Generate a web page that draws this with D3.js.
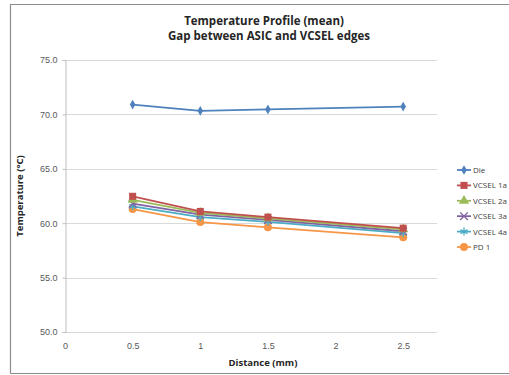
<!DOCTYPE html>
<html>
<head>
<meta charset="utf-8">
<script src="https://cdn.jsdelivr.net/npm/d3@7"></script>
<style>
  html, body { margin: 0; padding: 0; background: #fff; overflow: hidden; }
  svg { display: block; font-family: "Open Sans", "Liberation Sans", sans-serif; }
</style>
</head>
<body>
<svg id="chart" width="509" height="375"></svg>
<script>
// data
const distances = [0.5, 1, 1.5, 2.5];
const xTicks = [0, 0.5, 1, 1.5, 2, 2.5];
const yTicks = [50, 55, 60, 65, 70, 75];

const die     = [70.9, 70.33, 70.46, 70.72];
const vcsel1a = [62.47, 61.08, 60.56, 59.54];
const vcsel2a = [62.15, 60.95, 60.44, 59.44];
const vcsel3a = [61.8, 60.78, 60.3, 59.26];
const vcsel4a = [61.55, 60.56, 60.12, 59.08];
const pd1     = [61.3, 60.1, 59.62, 58.7];

const seriesNames = ["Die", "VCSEL 1a", "VCSEL 2a", "VCSEL 3a", "VCSEL 4a", "PD 1"];
const seriesValues = [die, vcsel1a, vcsel2a, vcsel3a, vcsel4a, pd1];
const colors = ["#4f81bd", "#c0504d", "#9bbb59", "#8064a2", "#4bacc6", "#f79646"];
const markers = ["diamond", "square", "triangle", "x", "star", "circle"];

const svg = d3.select("#chart");

// outer chart border (left, top, bottom)
svg.append("path")
    .attr("d", "M10.5,373.5 L10.5,4.5 L509,4.5 M10.5,373.5 L509,373.5")
    .attr("fill", "none")
    .attr("stroke", "#8c8c8c")
    .attr("stroke-width", 1.2);

let x = d3.scaleLinear().domain([0, 2.75]).range([65, 437]);
let y = d3.scaleLinear().domain([50, 75]).range([332, 60]);

// gridlines
svg.append("g")
    .selectAll("line")
    .data(yTicks)
    .join("line")
    .attr("x1", x(0))
    .attr("x2", x(2.75))
    .attr("y1", d => Math.round(y(d)) + 0.5)
    .attr("y2", d => Math.round(y(d)) + 0.5)
    .attr("stroke", "#d9d9d9")
    .attr("stroke-width", 1);

// y axis
let yAxis = svg.append("g")
    .attr("transform", "translate(" + (Math.round(x(0)) + 0.5) + ",0)")
    .call(d3.axisLeft(y).tickValues(yTicks).tickFormat(d3.format(".1f")).tickSize(3).tickPadding(5));
yAxis.select(".domain").attr("stroke", "#bfbfbf");
yAxis.selectAll(".tick line").attr("stroke", "#bfbfbf");
yAxis.selectAll("text").attr("fill", "#595959").style("font-size", "9px");

// x axis
let xAxis = svg.append("g")
    .attr("transform", "translate(0," + (Math.round(y(50)) + 0.5) + ")")
    .call(d3.axisBottom(x).tickValues(xTicks).tickFormat(d3.format("")).tickSize(0).tickPadding(10));
xAxis.select(".domain").remove();
xAxis.selectAll("text").attr("fill", "#595959").style("font-size", "9px");

// titles
svg.append("text")
    .attr("x", 264).attr("y", 25)
    .attr("text-anchor", "middle")
    .attr("font-weight", "bold").attr("font-size", "11.5px").attr("fill", "#262626")
    .text("Temperature Profile (mean)");
svg.append("text")
    .attr("x", 269).attr("y", 40)
    .attr("text-anchor", "middle")
    .attr("font-weight", "bold").attr("font-size", "11.5px").attr("fill", "#262626")
    .text("Gap between ASIC and VCSEL edges");

svg.append("text")
    .attr("x", 263).attr("y", 366)
    .attr("text-anchor", "middle")
    .attr("font-weight", "bold").attr("font-size", "9.5px").attr("fill", "#262626")
    .text("Distance (mm)");

svg.append("text")
    .attr("transform", "translate(23,196) rotate(-90)")
    .attr("text-anchor", "middle")
    .attr("font-weight", "bold").attr("font-size", "9.5px").attr("fill", "#262626")
    .text("Temperature (°C)");

// marker drawing
const drawMarker = (g, type, color, size) => {
    if (type === "diamond") {
        g.append("path").attr("d", d3.symbol(d3.symbolDiamond, size * 9)()).attr("fill", color);
    } else if (type === "square") {
        g.append("path").attr("d", d3.symbol(d3.symbolSquare, size * 10)()).attr("fill", color);
    } else if (type === "triangle") {
        g.append("path").attr("d", d3.symbol(d3.symbolTriangle, size * 9)()).attr("fill", color);
    } else if (type === "circle") {
        g.append("path").attr("d", d3.symbol(d3.symbolCircle, size * 10)()).attr("fill", color);
    } else if (type === "x") {
        g.append("path").attr("d", d3.symbol(d3.symbolX, size * 8)()).attr("fill", "none")
            .attr("stroke", color).attr("stroke-width", 1.3);
    } else {
        g.append("path").attr("d", d3.symbol(d3.symbolAsterisk, size * 9)()).attr("fill", "none")
            .attr("stroke", color).attr("stroke-width", 1.3);
    }
};

let line = d3.line()
    .x((d, i) => x(distances[i]))
    .y(d => y(d));

// draw from the back: PD 1 first, Die last
for (let s = seriesValues.length - 1; s >= 0; s--) {
    let g = svg.append("g");
    g.append("path")
        .datum(seriesValues[s])
        .attr("d", line)
        .attr("fill", "none")
        .attr("stroke", colors[s])
        .attr("stroke-width", 1.8);
    seriesValues[s].forEach((v, i) => {
        let m = g.append("g").attr("transform", "translate(" + x(distances[i]) + "," + y(v) + ")");
        drawMarker(m, markers[s], colors[s], s === 0 ? 3 : 5);
    });
}

// legend, nudged left so the labels fit inside the frame
let legend = svg.append("g");
seriesNames.forEach((name, i) => {
    let ly = 170 + i * 15.4;
    let item = legend.append("g").attr("transform", "translate(0," + ly + ")");
    item.append("line")
        .attr("x1", 457).attr("x2", 471)
        .attr("stroke", colors[i]).attr("stroke-width", 1.8);
    let m = item.append("g").attr("transform", "translate(464,0)");
    drawMarker(m, markers[i], colors[i], i === 0 ? 3 : 5);
    item.append("text")
        .attr("x", 473).attr("y", 3)
        .attr("font-size", "8px").attr("fill", "#404040")
        .text(name);
});
</script>
</body>
</html>
